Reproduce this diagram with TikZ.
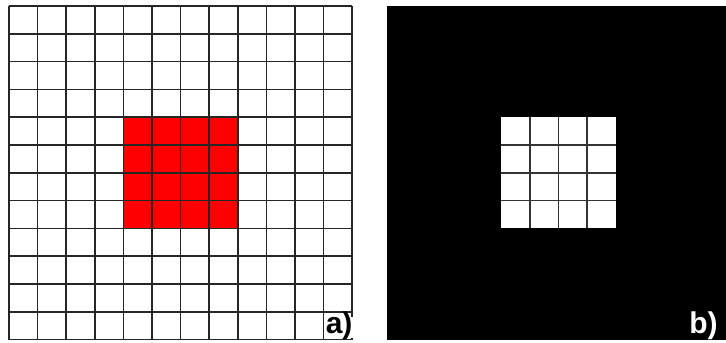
\documentclass[tikz,border=0pt]{standalone}
\usepackage{fontspec}
\setmainfont{Liberation Sans}
\begin{document}
\begin{tikzpicture}[x=28.6pt,y=-27.8pt,
  gridline/.style={line width=1.5pt,black!85},
  lbl/.style={font=\bfseries\fontsize{30}{30}\selectfont,inner sep=1pt}]
\useasboundingbox (-0.315,-0.216) rectangle (25.07,12.122);
% a) grid with red block
\fill[red] (4,4) rectangle (8,8);
\foreach \i in {0,...,12} {
  \draw[gridline] (\i,0) -- (\i,12);
  \draw[gridline] (0,\i) -- (12,\i);
}
\fill[white] (11.9,11.2) rectangle (12.1,11.95);
\node[lbl,anchor=south east] (labA) at (12.05,12.05) {a)};
% b) black field with white block
\begin{scope}[shift={(13.217,0)}]
\fill[black] (0,0) rectangle (12,12);
\fill[white] (4,4) rectangle (8,8);
\foreach \i in {5,6,7} {
  \draw[gridline,black!80] (\i,4) -- (\i,8);
  \draw[gridline,black!80] (4,\i) -- (8,\i);
}
\node[lbl,text=white,anchor=south east] (labB) at (11.6,12.05) {b)};
\end{scope}
\end{tikzpicture}
\end{document}
